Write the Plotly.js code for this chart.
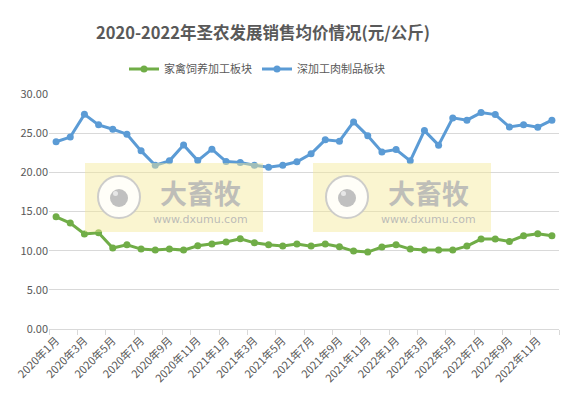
<!DOCTYPE html>
<html><head><meta charset="utf-8">
<script src="https://cdn.plot.ly/plotly-3.0.1.min.js"></script>
<style>html,body{margin:0;padding:0;background:#fff}#chart{width:570px;height:404px}</style>
</head><body><div id="chart"></div>
<script>
var months = [];
var years = [2020, 2021, 2022];
years.forEach(function(y){ for (var m = 1; m <= 12; m++) months.push(y + '年' + m + '月'); });

var poultryFeed = [14.32,13.52,12.12,12.28,10.33,10.75,10.20,10.07,10.20,10.07,10.62,10.84,
                   11.10,11.52,11.00,10.75,10.60,10.84,10.58,10.84,10.50,9.95,9.82,10.46,
                   10.75,10.20,10.07,10.07,10.07,10.58,11.48,11.48,11.17,11.90,12.16,11.90];
var meatProducts = [23.90,24.50,27.40,26.06,25.50,24.87,22.74,20.90,21.47,23.50,21.50,22.96,
                    21.38,21.25,20.90,20.66,20.90,21.35,22.36,24.15,23.98,26.44,24.66,22.60,
                    22.90,21.47,25.33,23.47,26.95,26.66,27.63,27.37,25.80,26.06,25.76,26.66];
var seriesNames = ['家禽饲养加工板块', '深加工肉制品板块'];

var L = 49, R = 559, T = 94, B = 329;
function px(x){ return (x - L) / (R - L); }
function py(y){ return (B - y) / (B - T); }

var shapes = [], annotations = [];
[85, 313].forEach(function(x0){
  shapes.push({type:'rect', xref:'paper', yref:'paper', layer:'above',
    x0:px(x0), x1:px(x0+178), y0:py(232), y1:py(163),
    fillcolor:'rgba(245,232,150,0.45)', line:{width:0}});
  var cx = x0 + 34, cy = 197;
  shapes.push({type:'circle', xref:'paper', yref:'paper', layer:'above',
    x0:px(cx-21), x1:px(cx+21), y0:py(cy+21), y1:py(cy-21),
    fillcolor:'rgba(255,255,255,0.85)', line:{color:'rgba(200,200,200,0.9)', width:2}});
  shapes.push({type:'circle', xref:'paper', yref:'paper', layer:'above',
    x0:px(cx-9), x1:px(cx+9), y0:py(cy+10), y1:py(cy-8),
    fillcolor:'rgba(185,185,185,0.9)', line:{width:0}});
  shapes.push({type:'circle', xref:'paper', yref:'paper', layer:'above',
    x0:px(cx-6), x1:px(cx-1), y0:py(cy-1), y1:py(cy-6),
    fillcolor:'rgba(235,235,235,0.9)', line:{width:0}});
  annotations.push({xref:'paper', yref:'paper', x:px(x0+115), y:py(192), xanchor:'center', yanchor:'middle',
    showarrow:false, text:'<b>大畜牧</b>',
    font:{family:'Noto Sans CJK SC', size:27, color:'rgba(180,180,180,0.85)'}});
  annotations.push({xref:'paper', yref:'paper', x:px(x0+115), y:py(219), xanchor:'center', yanchor:'middle',
    showarrow:false, text:'www.dxumu.com',
    font:{family:'DejaVu Sans', size:11, color:'rgba(180,180,180,0.9)'}});
});

var data = [
  {x: months, y: poultryFeed, name: seriesNames[0], type:'scatter', mode:'lines+markers',
   line:{color:'#70ad47', width:3}, marker:{color:'#70ad47', size:7}},
  {x: months, y: meatProducts, name: seriesNames[1], type:'scatter', mode:'lines+markers',
   line:{color:'#5b9bd5', width:3}, marker:{color:'#5b9bd5', size:7}}
];

var layout = {
  width:570, height:404,
  margin:{l:L, r:570-R, t:T, b:404-B},
  paper_bgcolor:'#fff', plot_bgcolor:'#fff',
  font:{family:'Noto Sans CJK SC, sans-serif', color:'#595959', size:11},
  title:{text:'<b>2020-2022年圣农发展销售均价情况(元/公斤)</b>', x:263/570, xanchor:'center', xref:'container',
    y:1-33/404, yref:'container', yanchor:'middle',
    font:{family:'Noto Sans CJK SC', size:16.5, color:'#595959'}},
  showlegend:true,
  legend:{orientation:'h', x:px(257), xanchor:'center', y:py(69), yanchor:'middle',
    font:{size:11, color:'#595959'}, itemwidth:30},
  xaxis:{type:'category', range:[-0.5, 35.5], dtick:2, tickangle:-45,
    tickson:'boundaries', ticks:'outside', ticklen:5, tickcolor:'#d9d9d9',
    showline:true, linecolor:'#d9d9d9', linewidth:1, showgrid:false,
    tickfont:{size:11, color:'#595959'}},
  yaxis:{range:[0, 30], dtick:5, tickformat:'.2f', showgrid:true, gridcolor:'#d9d9d9',
    zeroline:false, showline:false, ticks:'', tickfont:{size:11, color:'#595959'}},
  shapes:shapes, annotations:annotations
};

Plotly.newPlot('chart', data, layout, {displayModeBar:false, staticPlot:true});
</script></body></html>
